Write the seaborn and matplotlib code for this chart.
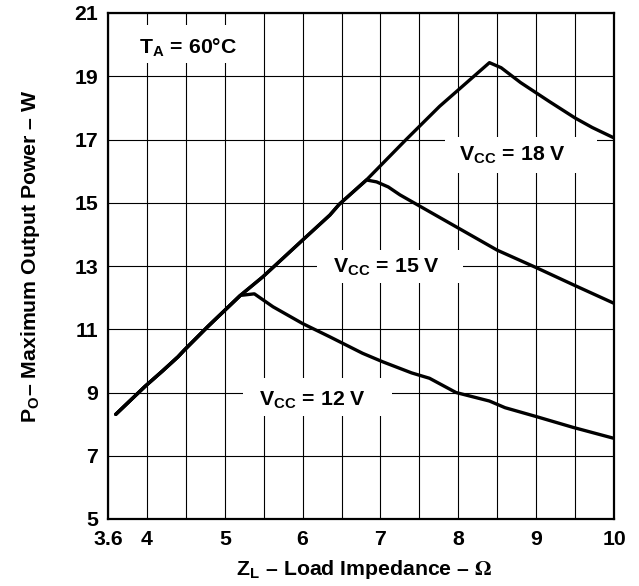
import matplotlib
matplotlib.use("Agg")
import matplotlib.pyplot as plt
from matplotlib.patches import Rectangle
import pandas as pd
import seaborn as sns

# Rising envelope shared by every supply voltage (power grows with load impedance)
envelope_z = [3.6, 3.8, 3.97, 4.2, 4.4, 4.48, 4.78, 5.2, 5.49, 6.0, 6.35, 6.47, 6.82, 7.33, 7.76, 8.4]
envelope_p = [8.31, 8.78, 9.18, 9.68, 10.13, 10.34, 11.08, 12.07, 12.66, 13.82, 14.61, 14.95, 15.72, 17.0, 18.05, 19.43]

# Falling branch of each supply voltage, starting at its knee on the envelope
vcc12_z = [5.2, 5.38, 5.62, 6.0, 6.35, 6.77, 7.03, 7.4, 7.63, 7.97, 8.4, 8.6, 9.0, 9.47, 10.0]
vcc12_p = [12.07, 12.12, 11.71, 11.18, 10.76, 10.24, 9.97, 9.62, 9.45, 9.0, 8.73, 8.52, 8.24, 7.9, 7.55]
vcc15_z = [6.82, 6.95, 7.1, 7.25, 7.5, 8.0, 8.5, 9.0, 9.5, 10.0]
vcc15_p = [15.72, 15.66, 15.5, 15.25, 14.9, 14.2, 13.5, 12.95, 12.38, 11.82]
vcc18_z = [8.4, 8.55, 8.8, 9.17, 9.5, 9.72, 10.0]
vcc18_p = [19.43, 19.27, 18.8, 18.2, 17.68, 17.38, 17.05]

supply_names = ["12 V", "15 V", "18 V"]

# Axis ticks
x_tick_pos = [3.5, 4, 5, 6, 7, 8, 9, 10]
x_tick_labels = ["3.6", "4", "5", "6", "7", "8", "9", "10"]
x_minor_pos = [4.5, 5.5, 6.5, 7.5, 8.5, 9.5]
y_tick_pos = [5, 7, 9, 11, 13, 15, 17, 19, 21]

FS = 15.3


def build_series(name, branch_z, branch_p):
    knee = branch_z[0]
    z = [v for v in envelope_z if v < knee] + list(branch_z)
    p = [envelope_p[i] for i, v in enumerate(envelope_z) if v < knee] + list(branch_p)
    return pd.DataFrame({"z": z, "p": p, "vcc": name})


df = pd.concat([
    build_series(supply_names[0], vcc12_z, vcc12_p),
    build_series(supply_names[1], vcc15_z, vcc15_p),
    build_series(supply_names[2], vcc18_z, vcc18_p),
], ignore_index=True)

sns.set_theme(style="white")
plt.rcParams["font.family"] = ["Liberation Sans", "DejaVu Sans"]
plt.rcParams["font.weight"] = "bold"
plt.rcParams["axes.labelweight"] = "bold"
plt.rcParams["mathtext.fontset"] = "stix"

fig = plt.figure(figsize=(6.39, 5.86), dpi=100)
ax = fig.add_axes([108 / 639, 1 - 519 / 586, 506 / 639, 506 / 586])

sns.lineplot(data=df, x="z", y="p", hue="vcc", palette=["black"] * 3,
             sort=False, estimator=None, legend=False, linewidth=2.4, ax=ax, zorder=4)

ax.set_xlim(3.5, 10)
ax.set_ylim(5, 21)
ax.set_xticks(x_tick_pos)
ax.set_xticklabels(x_tick_labels)
ax.set_xticks(x_minor_pos, minor=True)
ax.set_yticks(y_tick_pos)
ax.tick_params(axis="both", which="both", length=0, labelsize=FS, colors="black")
ax.tick_params(axis="x", pad=8)
ax.tick_params(axis="y", pad=7)
for lab in ax.get_xticklabels() + ax.get_yticklabels():
    lab.set_fontweight("bold")

ax.grid(True, which="both", color="black", linewidth=0.8)
ax.set_axisbelow(True)
for s in ax.spines.values():
    s.set_color("black")
    s.set_linewidth(1.6)

ax.set_xlabel("Z$_\\mathregular{L}$ – Load Impedance – $\\Omega$", fontsize=FS, color="black")
ax.set_ylabel("P$_\\mathregular{O}$– Maximum Output Power – W", fontsize=FS, color="black")
ax.xaxis.set_label_coords(0.507, -0.077)
ax.yaxis.set_label_coords(-0.13, 0.52)


def boxed_label(text, tx, ty, x0, x1, y0, y1):
    ax.add_patch(Rectangle((x0, y0), x1 - x0, y1 - y0, facecolor="white",
                           edgecolor="none", zorder=2))
    ax.text(tx, ty, text, ha="center", va="baseline", fontsize=FS,
            fontweight="bold", color="black", zorder=3)


boxed_label("T$_\\mathregular{A}$ = 60°C", 4.53, 19.74, 3.76, 5.32, 19.42, 20.62)
boxed_label("V$_\\mathregular{CC}$ = 18 V", 8.70, 16.35, 7.83, 9.78, 15.94, 17.08)
boxed_label("V$_\\mathregular{CC}$ = 15 V", 7.07, 12.82, 6.18, 8.06, 12.46, 13.51)
boxed_label("V$_\\mathregular{CC}$ = 12 V", 6.12, 8.60, 5.23, 7.15, 8.26, 9.46)

fig.savefig("out.png", dpi=100)
